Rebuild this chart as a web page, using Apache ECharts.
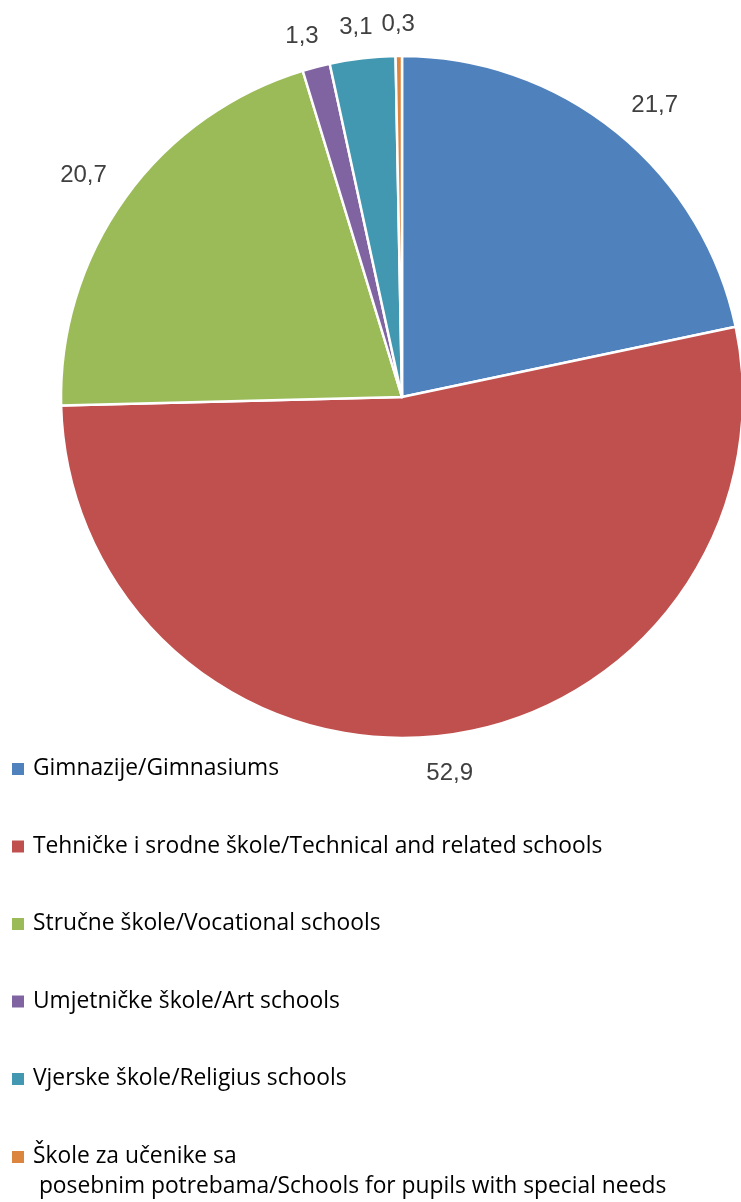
<!DOCTYPE html>
<html>
<head>
<meta charset="utf-8">
<script src="https://cdn.jsdelivr.net/npm/echarts@6/dist/echarts.min.js"></script>
<style>
html,body{margin:0;padding:0;background:#fff;}
#chart{width:741px;height:1202px;}
</style>
</head>
<body>
<div id="chart"></div>
<script>
var categories = [
  'Gimnazije/Gimnasiums',
  'Tehničke i srodne škole/Technical and related schools',
  'Stručne škole/Vocational schools',
  'Umjetničke škole/Art schools',
  'Vjerske škole/Religius schools',
  'Škole za učenike sa\n posebnim potrebama/Schools for pupils with special needs'
];
var values = [21.7, 52.9, 20.7, 1.3, 3.1, 0.3];
var colors = ['#4F81BD', '#C0504D', '#9BBB59', '#8064A2', '#4298B0', '#DC853F'];

var total = values.reduce(function(a, b){ return a + b; }, 0);
function midAngle(i) {
  var s = 0;
  for (var k = 0; k < i; k++) s += values[k];
  return (s + values[i] / 2) / total * 2 * Math.PI;
}
function clamp1(x) { return Math.max(-1, Math.min(1, x)); }

var LABEL_FONT = 'Liberation Sans';
var LEGEND_FONT = 'Open Sans';
var chart = echarts.init(document.getElementById('chart'));
var legendText = {fontFamily: LEGEND_FONT, fontSize: 22.8, color: '#000', lineHeight: 30, padding: [0, 0, 0, 3]};

chart.setOption({
  animation: false,
  legend: [{
    orient: 'vertical',
    left: 5,
    top: 749,
    itemWidth: 14,
    itemHeight: 14,
    itemGap: 47.5,
    icon: 'rect',
    selectedMode: false,
    textStyle: legendText,
    data: categories.slice(0, 5)
  }, {
    orient: 'vertical',
    left: 5,
    top: 1107,
    itemWidth: 14,
    itemHeight: 14,
    icon: 'rect',
    selectedMode: false,
    textStyle: legendText,
    formatter: function(name){ return '\n' + name; },
    data: categories.slice(5)
  }],
  series: [{
    type: 'pie',
    center: [402, 397],
    radius: 341,
    startAngle: 90,
    clockwise: true,
    avoidLabelOverlap: false,
    itemStyle: {borderColor: '#fff', borderWidth: 2.5},
    emphasis: {disabled: true},
    label: {
      show: true,
      position: 'outside',
      distanceToLabelLine: 0,
      fontFamily: LABEL_FONT,
      fontSize: 24,
      color: '#404040',
      formatter: function(p){ return p.value.toFixed(1).replace('.', ','); }
    },
    labelLine: {show: false, length: 23, length2: 0},
    labelLayout: function(p) {
      var a = midAngle(p.dataIndex);
      return {
        align: 'center',
        dx: p.labelRect.width / 2 * clamp1(2 * Math.sin(a)),
        dy: 3 - 11.5 * clamp1(2 * Math.cos(a))
      };
    },
    data: categories.map(function(c, i){
      return {name: c, value: values[i], itemStyle: {color: colors[i]}};
    })
  }]
});
</script>
</body>
</html>
